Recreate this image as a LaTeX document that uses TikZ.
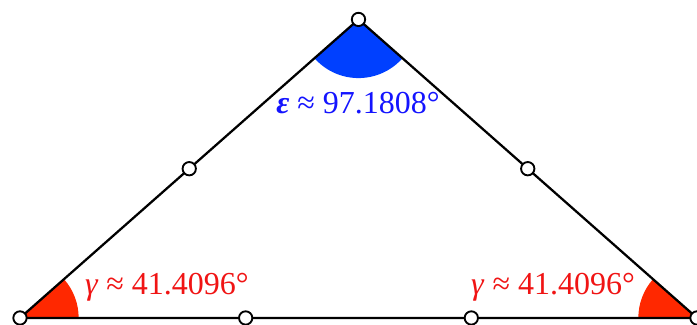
\documentclass[tikz,border=0pt]{standalone}
\usepackage{fontspec}
\setmainfont{Liberation Serif}
\usepackage{tikz}
\usetikzlibrary{calc}
\definecolor{angred}{RGB}{255,40,0}
\definecolor{angblue}{RGB}{0,64,255}
\definecolor{txtred}{RGB}{240,20,20}
\definecolor{txtblue}{RGB}{20,20,255}

\tikzset{
  side/.style={line width=1.7pt, black},
  pt/.style={circle, draw=black, fill=white, line width=1.4pt, inner sep=0pt, minimum size=10pt},
  anglab/.style={font=\fontsize{24}{27}\selectfont, inner sep=0pt}
}

\begin{document}
\begin{tikzpicture}[x=5.95cm, y=5.95cm]
  \useasboundingbox (-0.0886,-0.031) rectangle (3.0,1.409);
  %% vertices and division points
  \coordinate (A) at (0,0);
  \coordinate (B) at (3,0);
  \coordinate (C) at (1.5,1.3229);
  \coordinate (AB1) at ($(A)!1/3!(B)$);
  \coordinate (AB2) at ($(A)!2/3!(B)$);
  \coordinate (AC) at ($(A)!1/2!(C)$);
  \coordinate (BC) at ($(B)!1/2!(C)$);
  %% angle sectors
  \fill[angred] (A) -- ++(0:0.26) arc (0:41.4096:0.26) -- cycle;
  \fill[angred] (B) -- ++(180:0.26) arc (180:138.5904:0.26) -- cycle;
  \fill[angblue] (C) -- ++(221.4096:0.26) arc (221.4096:318.5904:0.26) -- cycle;
  %% sides
  \draw[side] (A) -- (B) -- (C) -- cycle;
  %% points
  \foreach \p in {A,B,C,AB1,AB2,AC,BC}
    \node[pt] (n\p) at (\p) {};
  %% labels
  \node[anglab, text=txtred] (gl) at (0.651,0.137) {\itshape γ\/\upshape{} ≈ 41.4096°};
  \node[anglab, text=txtred] (gr) at (2.362,0.137) {\itshape γ\/\upshape{} ≈ 41.4096°};
  \node[anglab, text=txtblue] (ep) at (1.498,0.953) {\bfseries\itshape ε\/\mdseries\upshape{} ≈ 97.1808°};
\end{tikzpicture}
\end{document}
